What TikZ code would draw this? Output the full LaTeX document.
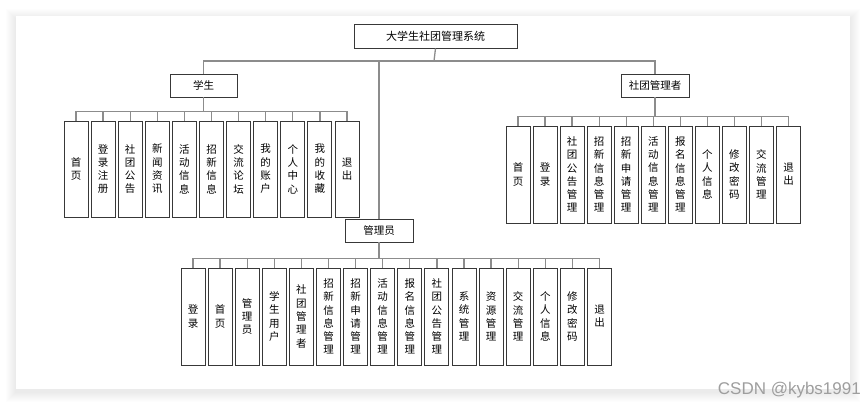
\documentclass[tikz,border=0pt]{standalone}
\usepackage{fontspec}
\newfontfamily\cjk{Noto Sans CJK SC}
\newfontfamily\wmfont{Liberation Sans}
\tikzset{
  box/.style={draw=black!78, line width=0.9pt, fill=white, inner sep=0pt, align=center,
    font=\cjk\fontsize{10.5}{13.3}\selectfont},
  leaf/.style={box, minimum width=24pt, minimum height=96pt},
  headbox/.style={box, minimum width=67pt, minimum height=23pt},
  conn/.style={draw=black!45, line width=1.3pt},
}
\begin{document}
\begin{tikzpicture}[x=1pt, y=-1pt]
\useasboundingbox (0,0) rectangle (866,405);
\fill[white] (0,0) rectangle (866,405);
% panel shadow
\foreach \k in {1,...,10} {
  \fill[black, opacity=0.009] (16-\k,16-\k+3) rectangle (850+\k,389+\k+3);
}
\fill[white] (16,16) rectangle (850,389);

% top
\node[box, minimum width=163pt, minimum height=24pt, font=\cjk\fontsize{11}{13}\selectfont] (top) at (435.5,36) {大学生社团管理系统};
\node[headbox] (stu) at (203.5,85.5) {学生};
\node[headbox, minimum width=68pt] (mgr) at (655,85.5) {社团管理者};
\node[headbox, minimum width=68pt] (adm) at (379,230.5) {管理员};
\coordinate (bus0) at (434,61);
\draw[conn] (top.south) -- (bus0);
\draw[conn] (stu.north) |- (bus0);
\draw[conn] (mgr.north) |- (bus0);
\draw[conn] (adm.north) -- (adm.north |- bus0);

% student leaves
\foreach \t [count=\i from 0] in {{首\\页},{登\\录\\注\\册},{社\\团\\公\\告},{新\\闻\\资\\讯},{活\\动\\信\\息},{招\\新\\信\\息},{交\\流\\论\\坛},{我\\的\\账\\户},{个\\人\\中\\心},{我\\的\\收\\藏},{退\\出}} {
  \node[leaf] (s\i) at (76+27.1*\i,169) {\t};
  \draw[conn] (s\i.north) -- ++(0,-9) -| (stu.south);
}

% manager leaves
\foreach \t [count=\i from 0] in {{首\\页},{登\\录},{社\\团\\公\\告\\管\\理},{招\\新\\信\\息\\管\\理},{招\\新\\申\\请\\管\\理},{活\\动\\信\\息\\管\\理},{报\\名\\信\\息\\管\\理},{个\\人\\信\\息},{修\\改\\密\\码},{交\\流\\管\\理},{退\\出}} {
  \node[leaf, minimum height=97pt] (m\i) at (518+27.05*\i,174.5) {\t};
  \draw[conn] (m\i.north) -- ++(0,-9) -| (mgr.south);
}

% admin leaves
\foreach \t [count=\i from 0] in {{登\\录},{首\\页},{管\\理\\员},{学\\生\\用\\户},{社\\团\\管\\理\\者},{招\\新\\信\\息\\管\\理},{招\\新\\申\\请\\管\\理},{活\\动\\信\\息\\管\\理},{报\\名\\信\\息\\管\\理},{社\\团\\公\\告\\管\\理},{系\\统\\管\\理},{资\\源\\管\\理},{交\\流\\管\\理},{个\\人\\信\\息},{修\\改\\密\\码},{退\\出}} {
  \node[leaf, minimum height=97pt] (a\i) at (193+27.1*\i,316.5) {\t};
  \draw[conn] (a\i.north) -- ++(0,-9) -| (adm.south);
}

% watermark
\node[anchor=east, inner sep=0pt, text=black!38, font=\wmfont\fontsize{17}{17}\selectfont] (wm) at (861,390) {CSDN @kybs1991};
\end{tikzpicture}
\end{document}
